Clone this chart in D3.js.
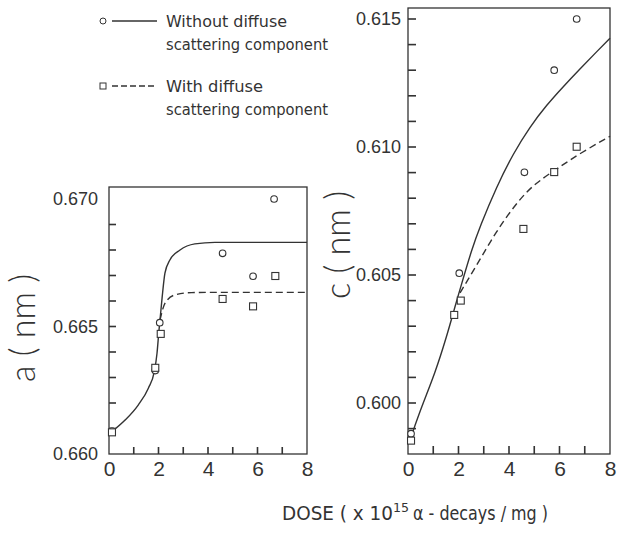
<!DOCTYPE html>
<html>
<head>
<meta charset="utf-8">
<script src="https://cdn.jsdelivr.net/npm/d3@7"></script>
<style>
  body { margin: 0; background: #fff; }
  svg { display: block; }
</style>
</head>
<body>
<svg id="chart"></svg>
<script>
// x axis (dose) and tick labels
const DOSE_LABELS = [0, 2, 4, 6, 8];
const A_LABELS = ["0.660", "0.665", "0.670"];
const C_LABELS = ["0.600", "0.605", "0.610", "0.615"];

// lattice parameter a : measured points
const A_NODIFF_DOSE = [0.12, 1.87, 2.05, 4.59, 5.82, 6.67];
const A_NODIFF = [0.6609, 0.66327, 0.66515, 0.66787, 0.66697, 0.6700];
const A_DIFF_DOSE = [0.12, 1.87, 2.09, 4.59, 5.82, 6.72];
const A_DIFF = [0.66085, 0.66338, 0.66471, 0.66608, 0.66579, 0.66698];

// lattice parameter a : fitted curves
const A_FIT_NODIFF_DOSE = [0.11, 0.65, 1.18, 1.59, 1.83, 1.94, 2.02, 2.06, 2.15, 2.26, 2.46, 2.87, 3.47, 4.28, 8.0];
const A_FIT_NODIFF = [0.66087, 0.66133, 0.66192, 0.66258, 0.66323, 0.66395, 0.66486, 0.66525, 0.66617, 0.66709, 0.66761, 0.66800, 0.66824, 0.66830, 0.66830];
const A_FIT_DIFF_DOSE = [2.06, 2.26, 2.67, 3.34, 4.40, 8.0];
const A_FIT_DIFF = [0.66525, 0.66591, 0.66624, 0.66633, 0.66634, 0.66634];

// lattice parameter c : measured points
const C_NODIFF_DOSE = [0.12, 2.03, 4.61, 5.79, 6.68];
const C_NODIFF = [0.5988, 0.60507, 0.60901, 0.61300, 0.6150];
const C_DIFF_DOSE = [0.12, 1.83, 2.09, 4.57, 5.79, 6.68];
const C_DIFF = [0.59853, 0.60344, 0.60400, 0.60680, 0.60902, 0.61001];

// lattice parameter c : fitted curves
const C_FIT_NODIFF_DOSE = [0.12, 0.54, 1.07, 1.53, 1.86, 2.13, 2.52, 2.85, 3.51, 4.17, 4.83, 5.49, 6.15, 6.81, 7.47, 8.0];
const C_FIT_NODIFF = [0.59868, 0.59986, 0.60116, 0.60259, 0.60376, 0.60468, 0.60598, 0.60689, 0.60845, 0.60975, 0.61079, 0.61164, 0.61236, 0.61305, 0.61372, 0.61425];
const C_FIT_DIFF_DOSE = [2.06, 2.46, 2.93, 3.49, 4.04, 4.63, 5.23, 6.02, 6.81, 8.0];
const C_FIT_DIFF = [0.60430, 0.60496, 0.60574, 0.60668, 0.60746, 0.60820, 0.60871, 0.60923, 0.60975, 0.61042];

var width = 627, height = 538;
var INK = "#333333";
var TICK_FONT = "'Liberation Sans', Arial, sans-serif";
var LETTER_FONT = "'DejaVu Sans Condensed', 'DejaVu Sans', sans-serif";
var LABEL_FONT = "Lato, 'Open Sans', sans-serif";

var svg = d3.select("#chart").attr("width", width).attr("height", height);

function zip(xs, ys) {
  return xs.map(function(x, i) { return {x: x, y: ys[i]}; });
}

function drawPanel(p) {
  var x = d3.scaleLinear().domain([0, 8]).range([p.left, p.right]);
  var y = d3.scaleLinear().domain(p.yDomain).range(p.yRange);
  var g = svg.append("g");

  /********* frame ***********/
  g.append("rect")
    .attr("x", x(0)).attr("y", p.top)
    .attr("width", x(8) - x(0)).attr("height", p.bottom - p.top)
    .attr("fill", "none").attr("stroke", INK).attr("stroke-width", 1.3);

  /********* inward ticks (small filled bars) ***********/
  g.selectAll(".xtick")
    .data(d3.range(1, 8))
    .enter().append("rect")
    .attr("x", function(d) { return x(d) - 0.8; })
    .attr("y", p.bottom - p.tick)
    .attr("width", 1.6).attr("height", p.tick)
    .attr("fill", INK);

  g.selectAll(".ytick")
    .data(p.yTicks)
    .enter().append("rect")
    .attr("x", x(0))
    .attr("y", function(d) { return y(d) - 0.8; })
    .attr("width", p.tick).attr("height", 1.6)
    .attr("fill", INK);

  /********* tick labels ***********/
  var xAxis = g.append("g")
    .attr("transform", "translate(0," + p.bottom + ")")
    .call(d3.axisBottom(x).tickValues(DOSE_LABELS).tickSize(0).tickPadding(7));
  xAxis.select(".domain").remove();
  xAxis.selectAll("text").attr("fill", "#333")
    .style("font-family", TICK_FONT).style("font-size", "21px");

  var yAxis = g.append("g")
    .attr("transform", "translate(" + x(0) + ",0)")
    .call(d3.axisLeft(y).tickValues(p.labels.map(Number)).tickSize(0).tickPadding(p.labelGap)
      .tickFormat(d3.format(".3f")));
  yAxis.select(".domain").remove();
  yAxis.selectAll("text").attr("fill", "#333")
    .style("font-family", TICK_FONT).style("font-size", "18px");

  g.append("text")
    .attr("transform", "translate(" + p.titleX + "," + p.titleY + ") rotate(-90)")
    .attr("text-anchor", "middle")
    .attr("dy", "0.35em")
    .attr("fill", "#333")
    .style("font-family", LABEL_FONT)
    .style("font-weight", 300)
    .style("font-size", "36px")
    .attr("textLength", 108).attr("lengthAdjust", "spacingAndGlyphs")
    .text(p.title);

  /********* curves ***********/
  var line = d3.line()
    .x(function(d) { return x(d.x); })
    .y(function(d) { return y(d.y); })
    .curve(p.curve);

  g.append("path")
    .datum(zip(p.fitNoDiffDose, p.fitNoDiff))
    .attr("d", line)
    .attr("fill", "none").attr("stroke", INK).attr("stroke-width", 1.4);

  g.append("path")
    .datum(zip(p.fitDiffDose, p.fitDiff))
    .attr("d", line)
    .attr("fill", "none").attr("stroke", INK).attr("stroke-width", 1.4)
    .attr("stroke-dasharray", "7,4");

  /********* points ***********/
  g.selectAll(".circ")
    .data(zip(p.noDiffDose, p.noDiff))
    .enter().append("circle")
    .attr("cx", function(d) { return x(d.x); })
    .attr("cy", function(d) { return y(d.y); })
    .attr("r", 3.3)
    .attr("fill", "white").attr("stroke", INK).attr("stroke-width", 1.1);

  g.selectAll(".sq")
    .data(zip(p.diffDose, p.diff))
    .enter().append("rect")
    .attr("x", function(d) { return x(d.x) - 3.5; })
    .attr("y", function(d) { return y(d.y) - 3.5; })
    .attr("width", 7).attr("height", 7)
    .attr("fill", "white").attr("stroke", INK).attr("stroke-width", 1.1);
}

drawPanel({
  left: 109, right: 307, top: 187, bottom: 454,
  yDomain: [0.660, 0.670], yRange: [454, 199],
  yTicks: d3.range(1, 10).map(function(i) { return 0.660 + i * 0.001; }),
  labels: A_LABELS, labelGap: 11, tick: 7,
  title: "a ( nm )", titleX: 22, titleY: 328,
  curve: d3.curveMonotoneX,
  noDiffDose: A_NODIFF_DOSE, noDiff: A_NODIFF,
  diffDose: A_DIFF_DOSE, diff: A_DIFF,
  fitNoDiffDose: A_FIT_NODIFF_DOSE, fitNoDiff: A_FIT_NODIFF,
  fitDiffDose: A_FIT_DIFF_DOSE, fitDiff: A_FIT_DIFF
});

drawPanel({
  left: 408, right: 610, top: 8, bottom: 454,
  yDomain: [0.600, 0.615], yRange: [403, 19],
  yTicks: d3.range(-1, 16).map(function(i) { return 0.600 + i * 0.001; }),
  labels: C_LABELS, labelGap: 7, tick: 8,
  title: "c ( nm )", titleX: 337, titleY: 245,
  curve: d3.curveBasis,
  noDiffDose: C_NODIFF_DOSE, noDiff: C_NODIFF,
  diffDose: C_DIFF_DOSE, diff: C_DIFF,
  fitNoDiffDose: C_FIT_NODIFF_DOSE, fitNoDiff: C_FIT_NODIFF,
  fitDiffDose: C_FIT_DIFF_DOSE, fitDiff: C_FIT_DIFF
});

/********* legend ***********/
var legend = svg.append("g");
legend.append("circle").attr("cx", 103).attr("cy", 21).attr("r", 3)
  .attr("fill", "white").attr("stroke", INK).attr("stroke-width", 1);
legend.append("line").attr("x1", 112).attr("x2", 157).attr("y1", 21).attr("y2", 21)
  .attr("stroke", INK).attr("stroke-width", 1.4);
legend.append("rect").attr("x", 100).attr("y", 83).attr("width", 6).attr("height", 6)
  .attr("fill", "white").attr("stroke", INK).attr("stroke-width", 1);
legend.append("line").attr("x1", 112).attr("x2", 157).attr("y1", 86).attr("y2", 86)
  .attr("stroke", INK).attr("stroke-width", 1.4).attr("stroke-dasharray", "6,3");

var LEGEND_LINES = [
  {text: "Without diffuse", y: 27, len: 121},
  {text: "scattering component", y: 50, len: 162},
  {text: "With diffuse", y: 92, len: 97},
  {text: "scattering component", y: 115, len: 162}
];
legend.selectAll(".lt")
  .data(LEGEND_LINES)
  .enter().append("text")
  .attr("x", 166).attr("y", function(d) { return d.y; })
  .attr("fill", "#333")
  .style("font-family", LETTER_FONT).style("font-size", "16px")
  .attr("textLength", function(d) { return d.len; })
  .attr("lengthAdjust", "spacingAndGlyphs")
  .text(function(d) { return d.text; });

/********* x title ***********/
var xtitle = svg.append("g").attr("fill", "#333").style("font-family", LETTER_FONT);
xtitle.append("text").attr("x", 282).attr("y", 520).style("font-size", "20px")
  .attr("textLength", 111).attr("lengthAdjust", "spacingAndGlyphs")
  .text("DOSE ( x 10");
xtitle.append("text").attr("x", 393).attr("y", 512).style("font-size", "13px")
  .attr("textLength", 16).attr("lengthAdjust", "spacingAndGlyphs")
  .text("15");
xtitle.append("text").attr("x", 413).attr("y", 520).style("font-size", "20px")
  .attr("textLength", 135).attr("lengthAdjust", "spacingAndGlyphs")
  .text("α - decays / mg )");
</script>
</body>
</html>
